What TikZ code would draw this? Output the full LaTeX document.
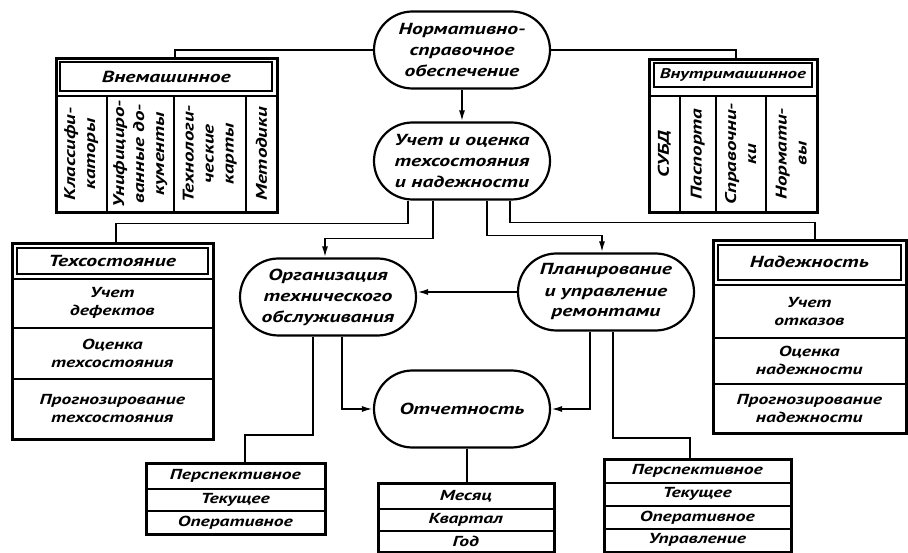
\documentclass[tikz,border=0pt]{standalone}
\usepackage{fontspec}
\setmainfont{PT Sans}[FakeStretch=1.35]
\usetikzlibrary{shapes.misc,arrows.meta}

\begin{document}
\begin{tikzpicture}[x=1pt,y=-1pt]
                \tikzset{txt/.style={font=\bfseries\itshape\fontsize{14.5}{18}\selectfont, align=center}}
                \tikzset{big/.style={font=\bfseries\itshape\fontsize{16}{21}\selectfont}}
                \tikzset{pill/.style={txt, big, rounded rectangle, draw, line width=2.2pt, inner sep=0pt,
                    minimum width=176, minimum height=77}}
                \tikzset{frame/.style={draw, line width=2.6pt, anchor=north west, inner sep=0pt}}
                \tikzset{cell/.style={txt, draw, line width=1.6pt, anchor=north west, inner sep=0pt}}
                \tikzset{head/.style={txt, big, draw, line width=1.8pt, inner sep=0pt}}
                \tikzset{vtext/.style={txt, font=\bfseries\itshape\fontsize{15.5}{20}\selectfont, rotate=90}}
                \tikzset{link/.style={line width=1.8pt}}
                \tikzset{arr/.style={link, -{Latex[length=11pt,width=6pt]}}}
                \useasboundingbox (0,0) rectangle (908,553);
                % ovals
                \node[pill] (norm) at (462,50) {Нормативно-\\справочное\\обеспечение};
                \node[pill] (uchet) at (462,161) {Учет и оценка\\техсостояния\\и надежности};
                \node[pill] (org) at (328,297) {Организация\\технического\\обслуживания};
                \node[pill] (plan) at (606,292) {Планирование\\и управление\\ремонтами};
                \node[pill] (otch) at (462,409) {Отчетность};
                % Внемашинное
                \node[cell, minimum width=221, minimum height=38] (vnemH) at (55,57) {};
                \node[head, minimum width=212, minimum height=29] (vnemT) at (vnemH.center) {Внемашинное};
                \node[cell, minimum width=51, minimum height=116] (klass) at (55,95) {};
                \node[cell, minimum width=67, minimum height=116] (unif) at (106,95) {};
                \node[cell, minimum width=72, minimum height=116] (techn) at (173,95) {};
                \node[cell, minimum width=31, minimum height=116] (metod) at (245,95) {};
                \node[vtext] (klassT) at (klass) {Классифи-\\каторы};
                \node[vtext] (unifT) at (unif) {Унифициро-\\ванные до-\\кументы};
                \node[vtext] (technT) at (techn) {Технологи-\\ческие\\карты};
                \node[vtext] (metodT) at (metod) {Методики};
                \node[frame, minimum width=221, minimum height=154] (vnem) at (55,57) {};
                % Внутримашинное
                \node[cell, minimum width=168, minimum height=37] (vnutH) at (648,58) {};
                \node[head, font=\bfseries\itshape\fontsize{14}{18}\selectfont, minimum width=158, minimum height=24]
                    (vnutT) at ([yshift=2]vnutH.center) {Внутримашинное};
                \node[cell, minimum width=31, minimum height=116] (subd) at (648,95) {};
                \node[cell, minimum width=36, minimum height=116] (pasp) at (679,95) {};
                \node[cell, minimum width=50, minimum height=116] (sprav) at (715,95) {};
                \node[cell, minimum width=51, minimum height=116] (normat) at (765,95) {};
                \node[vtext] (subdT) at (subd) {СУБД};
                \node[vtext] (paspT) at (pasp) {Паспорта};
                \node[vtext] (spravT) at (sprav) {Справочни-\\ки};
                \node[vtext] (normatT) at (normat) {Нормати-\\вы};
                \node[frame, minimum width=168, minimum height=153] (vnut) at (648,58) {};
                % Техсостояние
                \node[cell, minimum width=201, minimum height=36] (techH) at (11,242) {};
                \node[head, minimum width=191, minimum height=26] (techT) at (techH.center) {Техсостояние};
                \node[cell, minimum width=201, minimum height=49] (defekt) at (11,278) {Учет\\дефектов};
                \node[cell, minimum width=201, minimum height=51] (otsTech) at (11,327) {Оценка\\техсостояния};
                \node[cell, minimum width=201, minimum height=60] (progTech) at (11,378) {Прогнозирование\\техсостояния};
                \node[frame, minimum width=201, minimum height=196] (tech) at (11,242) {};
                % Надежность
                \node[cell, minimum width=193, minimum height=45] (nadH) at (712,239) {};
                \node[head, minimum width=183, minimum height=35, line width=2.4pt] (nadT) at (nadH.center) {Надежность};
                \node[cell, minimum width=193, minimum height=53] (otkaz) at (712,284) {Учет\\отказов};
                \node[cell, minimum width=193, minimum height=46] (otsNad) at (712,337) {Оценка\\надежности};
                \node[cell, minimum width=193, minimum height=49] (progNad) at (712,383) {Прогнозирование\\надежности};
                \node[frame, minimum width=193, minimum height=193] (nad) at (712,239) {};
                % планы слева
                \node[cell, minimum width=179, minimum height=26] (perspL) at (145,462) {Перспективное};
                \node[cell, minimum width=179, minimum height=22] (tekL) at (145,488) {Текущее};
                \node[cell, minimum width=179, minimum height=23] (operL) at (145,510) {Оперативное};
                \node[frame, minimum width=179, minimum height=71] (planL) at (145,462) {};
                % периоды
                \node[cell, minimum width=176, minimum height=26] (mes) at (377,482) {Месяц};
                \node[cell, minimum width=176, minimum height=22] (kvart) at (377,508) {Квартал};
                \node[cell, minimum width=176, minimum height=21] (god) at (377,530) {Год};
                \node[frame, minimum width=176, minimum height=69] (period) at (377,482) {};
                % планы справа
                \node[cell, minimum width=187, minimum height=24] (perspR) at (603,458) {Перспективное};
                \node[cell, minimum width=187, minimum height=23] (tekR) at (603,482) {Текущее};
                \node[cell, minimum width=187, minimum height=23] (operR) at (603,505) {Оперативное};
                \node[cell, minimum width=187, minimum height=23] (uprR) at (603,528) {Управление};
                \node[frame, minimum width=187, minimum height=93] (planR) at (603,458) {};
                % links
                \draw[link] (norm.west) -| ([xshift=8]vnem.north);
                \draw[link] (norm.east) -| ([xshift=3]vnut.north);
                \draw[arr] (norm.south) -- (uchet.north);
                \draw[link] ([xshift=-54]uchet.south) -- ++(0,23) -| ([xshift=3]tech.north);
                \draw[arr] ([xshift=-29]uchet.south) -- ++(0,38) -| ([xshift=-3]org.north);
                \draw[arr] ([xshift=25]uchet.south) -- ++(0,35) -| ([xshift=-4]plan.north);
                \draw[link] ([xshift=48]uchet.south) -- ++(0,22) -| ([xshift=5]nad.north);
                \draw[arr] (plan.west) -- (org.east |- plan.west);
                \draw[arr] ([xshift=14]org.south) |- (otch.west);
                \draw[arr] ([xshift=-16]plan.south) |- (otch.east);
                \draw[link] ([xshift=-15]org.south) -- ++(0,98) -| ([xshift=9]planL.north);
                \draw[link] ([xshift=7]plan.south) -- ++(0,106) -| ([xshift=-8]planR.north);
                \draw[link] ([xshift=5]otch.south) -- ([xshift=5]otch.south |- period.north);
            \end{tikzpicture}
\end{document}
